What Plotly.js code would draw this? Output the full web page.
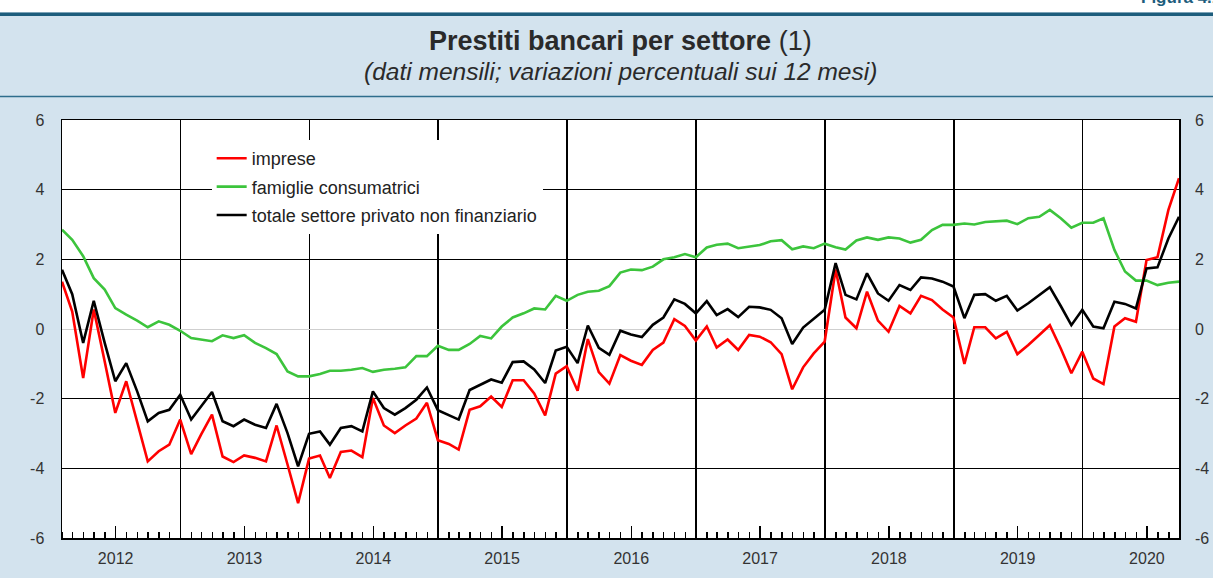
<!DOCTYPE html>
<html>
<head>
<meta charset="utf-8">
<script src="https://cdn.plot.ly/plotly-3.0.1.min.js"></script>
<style>
  html, body { margin: 0; padding: 0; background: #d3e3ee; }
  #chart { width: 1213px; height: 578px; }
</style>
</head>
<body>
<div id="chart"></div>
<script>
// monthly data, Jan 2012 - Sep 2020 (12-month % change)
var firstYear = 2012, lastYear = 2020, lastMonth = 9;

var imprese = [
  1.36, 0.50, -1.41, 0.56, -0.93, -2.41, -1.50, -2.65, -3.80, -3.51, -3.32, -2.60,
  -3.59, -3.03, -2.46, -3.66, -3.82, -3.63, -3.70, -3.80, -2.77, -3.89, -5.00, -3.72,
  -3.63, -4.28, -3.53, -3.49, -3.68, -1.98, -2.77, -2.99, -2.77, -2.57, -2.12, -3.19,
  -3.30, -3.46, -2.32, -2.22, -1.94, -2.24, -1.47, -1.47, -1.85, -2.48, -1.28, -1.07,
  -1.77, -0.29, -1.24, -1.57, -0.75, -0.91, -1.03, -0.60, -0.39, 0.28, 0.09, -0.33,
  0.07, -0.53, -0.30, -0.60, -0.17, -0.22, -0.38, -0.72, -1.73, -1.10, -0.70, -0.36,
  1.71, 0.33, 0.02, 1.07, 0.24, -0.08, 0.66, 0.45, 0.95, 0.83, 0.56, 0.33,
  -1.00, 0.05, 0.05, -0.27, -0.08, -0.72, -0.46, -0.17, 0.11, -0.56, -1.27, -0.65,
  -1.42, -1.58, 0.07, 0.31, 0.21, 1.98, 2.06, 3.42, 4.33
];

var famiglie = [
  2.85, 2.56, 2.09, 1.46, 1.13, 0.60, 0.41, 0.24, 0.05, 0.22, 0.12, -0.05,
  -0.26, -0.31, -0.35, -0.18, -0.26, -0.18, -0.40, -0.55, -0.72, -1.22, -1.36, -1.36,
  -1.29, -1.20, -1.20, -1.17, -1.12, -1.23, -1.17, -1.14, -1.10, -0.78, -0.78, -0.48,
  -0.60, -0.60, -0.43, -0.20, -0.27, 0.07, 0.33, 0.45, 0.59, 0.56, 0.95, 0.81,
  0.98, 1.07, 1.10, 1.23, 1.62, 1.71, 1.69, 1.79, 2.00, 2.06, 2.15, 2.06,
  2.34, 2.42, 2.45, 2.32, 2.37, 2.41, 2.52, 2.55, 2.29, 2.37, 2.32, 2.45,
  2.35, 2.28, 2.54, 2.63, 2.56, 2.63, 2.60, 2.48, 2.56, 2.84, 2.99, 2.99,
  3.03, 3.00, 3.07, 3.08, 3.11, 3.01, 3.18, 3.22, 3.42, 3.18, 2.91, 3.05,
  3.05, 3.18, 2.27, 1.65, 1.39, 1.39, 1.26, 1.33, 1.36
];

var totale = [
  1.70, 1.00, -0.40, 0.81, -0.40, -1.50, -0.98, -1.79, -2.65, -2.41, -2.32, -1.89,
  -2.60, -2.22, -1.81, -2.65, -2.79, -2.60, -2.75, -2.84, -2.15, -2.99, -3.94, -3.01,
  -2.94, -3.32, -2.84, -2.79, -2.94, -1.79, -2.27, -2.46, -2.27, -2.03, -1.68, -2.33,
  -2.48, -2.60, -1.75, -1.61, -1.45, -1.54, -0.95, -0.93, -1.16, -1.55, -0.62, -0.51,
  -0.98, 0.10, -0.54, -0.74, -0.05, -0.16, -0.23, 0.12, 0.33, 0.85, 0.72, 0.45,
  0.80, 0.40, 0.57, 0.34, 0.64, 0.62, 0.55, 0.31, -0.43, 0.04, 0.30, 0.55,
  1.89, 0.98, 0.85, 1.60, 1.02, 0.81, 1.26, 1.12, 1.48, 1.45, 1.36, 1.22,
  0.31, 0.98, 1.00, 0.81, 0.95, 0.53, 0.74, 0.98, 1.20, 0.66, 0.11, 0.55,
  0.07, 0.02, 0.78, 0.72, 0.59, 1.74, 1.77, 2.60, 3.22
];

// month-end dates
var dates = [];
for (var y = firstYear; y <= lastYear; y++) {
  for (var m = 1; m <= 12; m++) {
    if (y == lastYear && m > lastMonth) break;
    var d = new Date(Date.UTC(y, m, 0)).getUTCDate();
    dates.push(y + "-" + (m < 10 ? "0" + m : m) + "-" + d);
  }
}

var years = [];
for (var y = firstYear; y <= lastYear; y++) years.push(y);
var yearStarts = years.slice(1).map(y => y + "-01-01");
var midYears = years.map(y => y + "-07-01");
var yearLabels = years.map(y => String(y));

var yTicks = [-6, -4, -2, 0, 2, 4, 6];
var yLabels = yTicks.map(v => String(v));
var xRange = [dates[0], dates[dates.length - 1]];

var lineW = 2.6;
var traces = [
  {x: dates, y: imprese, name: "imprese", type: "scatter", mode: "lines",
   line: {color: "#ff0000", width: lineW}, legendgroup: "a"},
  {x: dates, y: famiglie, name: "famiglie consumatrici", type: "scatter", mode: "lines",
   line: {color: "#3cc43c", width: lineW}, legendgroup: "b"},
  {x: dates, y: totale, name: "totale settore privato non finanziario", type: "scatter", mode: "lines",
   line: {color: "#000000", width: lineW}, legendgroup: "c"},
  // invisible copy so the secondary axes (year labels, right-hand scale) get drawn
  {x: dates, y: totale, xaxis: "x2", yaxis: "y2", type: "scatter", mode: "lines",
   line: {width: 0}, opacity: 0, showlegend: false, hoverinfo: "skip"}
];

var tickFont = {family: "Liberation Sans, Arial, sans-serif", size: 16, color: "#333"};

var layout = {
  width: 1213,
  height: 578,
  margin: {l: 62, r: 34, t: 120, b: 40},
  paper_bgcolor: "#d3e3ee",
  plot_bgcolor: "#ffffff",
  showlegend: true,
  legend: {
    x: 0.134, y: 0.952, xanchor: "left", yanchor: "top",
    bgcolor: "#ffffff", borderwidth: 0, tracegroupgap: 2,
    font: {family: "Liberation Sans, Arial, sans-serif", size: 18, color: "#222"}
  },
  xaxis: {
    type: "date", range: xRange,
    tickmode: "array", tickvals: yearStarts, showticklabels: false, ticks: "",
    showgrid: true, gridcolor: "#000", gridwidth: 1.6,
    showline: true, mirror: true, linecolor: "#000", linewidth: 1.5,
    minor: {dtick: "M1", tick0: "2012-01-01", ticks: "inside", ticklen: 6,
            tickwidth: 1.5, tickcolor: "#000", showgrid: false}
  },
  xaxis2: {
    type: "date", range: xRange, overlaying: "x", anchor: "y", side: "bottom",
    tickmode: "array", tickvals: midYears, ticktext: yearLabels,
    ticks: "inside", ticklen: 12, tickwidth: 1.5, tickcolor: "#000",
    showgrid: false, showline: false, zeroline: false,
    tickfont: tickFont, ticklabelstandoff: 9
  },
  yaxis: {
    range: [-6, 6], tickmode: "array", tickvals: yTicks, ticktext: yLabels,
    showgrid: false, zeroline: true, zerolinecolor: "#cfcfcf", zerolinewidth: 1,
    showline: true, mirror: true, linecolor: "#000", linewidth: 1.5,
    ticks: "", tickfont: tickFont, ticklabelstandoff: 13,
    minor: {tickmode: "array", tickvals: [-4, -2, 2, 4], showgrid: true,
            gridcolor: "#000", gridwidth: 1.5, ticks: ""}
  },
  yaxis2: {
    range: [-6, 6], overlaying: "y", side: "right", anchor: "x",
    tickmode: "array", tickvals: yTicks, ticktext: yLabels,
    showgrid: false, zeroline: false, showline: false, ticks: "",
    tickfont: tickFont, ticklabelstandoff: 15
  },
  shapes: [
    {type: "rect", xref: "paper", yref: "paper", x0: -0.06, x1: 1.04, y0: 1.258, y1: 1.3,
     fillcolor: "#ffffff", line: {width: 0}, layer: "below"},
    {type: "line", xref: "paper", yref: "paper", x0: -0.06, x1: 1.04, y0: 1.253, y1: 1.253,
     line: {color: "#1d5d7c", width: 3.5}},
    {type: "line", xref: "paper", yref: "paper", x0: -0.06, x1: 1.04, y0: 1.056, y1: 1.056,
     line: {color: "#2d6d8c", width: 1.5}}
  ],
  annotations: [
    {text: "<b>Prestiti bancari per settore</b> (1)", xref: "paper", yref: "paper",
     x: 0.5, y: 1.188, xanchor: "center", yanchor: "middle", showarrow: false,
     font: {family: "Liberation Sans, Arial, sans-serif", size: 27, color: "#2a2a2a"}},
    {text: "<i>(dati mensili; variazioni percentuali sui 12 mesi)</i>", xref: "paper", yref: "paper",
     x: 0.5, y: 1.115, xanchor: "center", yanchor: "middle", showarrow: false,
     font: {family: "Liberation Sans, Arial, sans-serif", size: 24.5, color: "#2a2a2a"}},
    {text: "<b>Figura 4.1</b>", xref: "paper", yref: "paper",
     x: 0.964, y: 1.266, xanchor: "left", yanchor: "bottom", showarrow: false,
     font: {family: "Liberation Sans, Arial, sans-serif", size: 17, color: "#1d5d7c"}}
  ]
};

Plotly.newPlot("chart", traces, layout, {staticPlot: true, displayModeBar: false});
</script>
</body>
</html>
